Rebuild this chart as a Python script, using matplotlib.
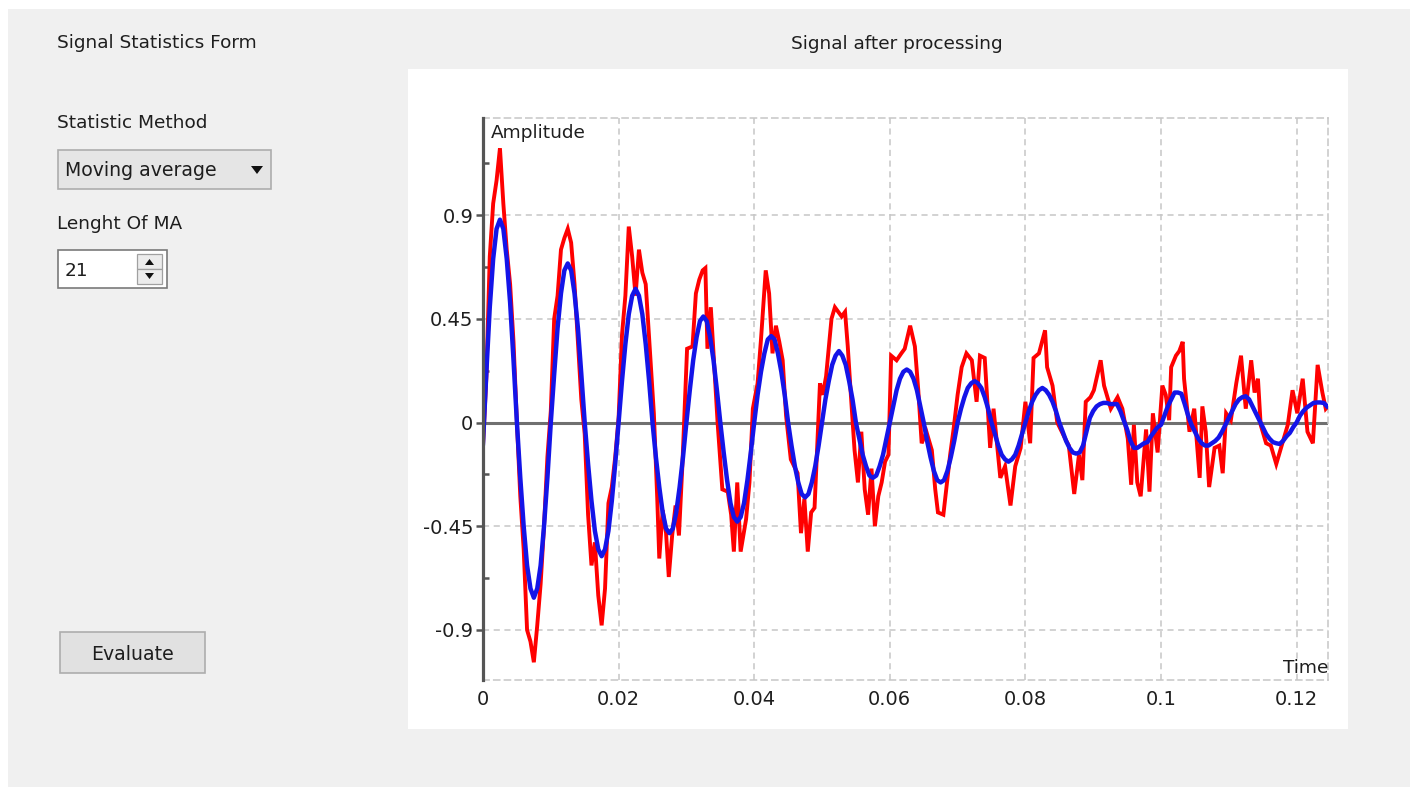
import numpy as np
import matplotlib
matplotlib.use('Agg')
import matplotlib.pyplot as plt
from matplotlib.patches import Rectangle, Polygon

# ---------------- data ----------------
# raw signal (red): time in ms, amplitude
red_t_ms = [0, 0.5, 1.0, 1.5, 2.0, 2.5, 3.0, 3.5, 4.0, 4.5, 5.0, 5.5, 6.0, 6.5, 7.0, 7.5, 8.0, 8.5, 9.0, 9.5,
            10.0, 10.5, 11.0, 11.5, 12.0, 12.5, 13.0, 13.5, 14.0, 14.5, 15.0, 15.5, 16.0, 16.5, 17.0, 17.5,
            18.0, 18.5, 19.0, 19.5, 20.0, 20.5, 21.0, 21.5, 22.0, 22.5, 23.0, 23.5,
            24.0, 24.7, 25.2, 25.7, 26.0, 26.5, 27.0, 27.4, 27.9, 28.4, 28.9, 29.4, 30.1, 30.9, 31.4, 31.9,
            32.4, 32.8, 33.1, 33.6, 34.1, 34.6, 35.3, 36.1, 36.6, 37.0, 37.5, 38.0, 38.8, 39.3, 39.8, 40.5,
            41.0, 41.7, 42.2, 42.7, 43.2, 43.7, 44.2, 44.7, 45.4, 46.4, 46.9, 47.4, 47.9, 48.4, 48.9,
            49.7, 50.1, 50.6, 51.4, 51.9, 52.4, 52.9, 53.4, 53.8, 54.3, 54.8, 55.3, 55.8, 56.3, 56.8, 57.3,
            57.8, 58.3, 58.8, 59.3, 59.8, 60.2, 61.0, 61.7, 62.2, 63.0, 63.7, 64.2, 64.7, 65.4, 66.2, 66.7,
            67.1, 67.9, 68.4, 68.9, 69.4, 70.0, 70.6, 71.3, 72.1, 72.8, 73.3, 74.0,
            74.8, 75.3, 76.3, 77.0, 77.8, 78.5, 79.3, 80.0, 80.7, 81.2, 82.0, 82.9, 83.2, 84.0, 84.7, 85.7,
            86.4, 87.2, 87.9, 88.4, 88.9, 89.6, 90.1, 91.1, 91.6, 92.6, 93.6, 94.3, 95.1, 95.6, 96.0, 96.5,
            97.0, 97.8, 98.3,
            98.8, 99.5, 100.2, 100.7, 101.2, 101.5, 102.2, 102.7, 103.2, 103.4, 104.2, 104.9, 105.7, 106.1,
            106.6, 107.1, 107.9, 108.6, 109.1, 109.6, 110.3, 111.1, 111.8, 112.5, 113.3, 113.8, 114.3, 114.7,
            115.5, 116.2, 117.0, 117.7, 118.7, 119.4, 120.1, 120.9, 121.6, 122.4, 123.1, 123.8, 124.3, 124.6]
red_v = [-0.1, 0.2, 0.72, 0.95, 1.05, 1.19, 0.95, 0.75, 0.6, 0.35, 0.0, -0.32, -0.55, -0.9, -0.95, -1.04, -0.88, -0.7, -0.45, -0.15,
         0.05, 0.45, 0.55, 0.75, 0.8, 0.84, 0.78, 0.6, 0.35, 0.1, -0.05, -0.4, -0.62, -0.52, -0.75, -0.88,
         -0.72, -0.35, -0.28, -0.15, 0.02, 0.38, 0.55, 0.85, 0.72, 0.55, 0.75, 0.65,
         0.6, 0.27, 0.04, -0.33, -0.59, -0.38, -0.48, -0.67, -0.49, -0.36, -0.49, -0.19, 0.32, 0.33, 0.56, 0.62,
         0.66, 0.67, 0.32, 0.5, 0.25, 0.0, -0.29, -0.3, -0.4, -0.56, -0.26, -0.56, -0.42, -0.26, 0.06, 0.17,
         0.36, 0.66, 0.56, 0.3, 0.42, 0.35, 0.27, 0.03, -0.16, -0.22, -0.48, -0.33, -0.56, -0.39, -0.37,
         0.17, 0.12, 0.2, 0.45, 0.5, 0.48, 0.46, 0.48, 0.33, 0.1, -0.12, -0.26, -0.04, -0.29, -0.4, -0.2,
         -0.45, -0.32, -0.26, -0.17, -0.14, 0.29, 0.27, 0.3, 0.32, 0.42, 0.33, 0.14, -0.09, -0.04, -0.12, -0.29,
         -0.39, -0.4, -0.27, -0.14, -0.03, 0.12, 0.24, 0.3, 0.27, 0.09, 0.29, 0.28,
         -0.11, 0.06, -0.24, -0.19, -0.36, -0.19, -0.11, 0.09, -0.09, 0.28, 0.3, 0.4, 0.24, 0.16, 0.0, -0.06,
         -0.1, -0.31, -0.14, -0.25, 0.09, 0.11, 0.14, 0.27, 0.16, 0.06, 0.11, 0.06, -0.07, -0.27, -0.01, -0.26,
         -0.32, -0.03, -0.3,
         0.04, -0.13, 0.16, 0.12, 0.01, 0.24, 0.29, 0.31, 0.35, 0.19, -0.04, 0.06, -0.24, 0.07,
         -0.04, -0.28, -0.11, -0.1, -0.22, 0.04, 0.01, 0.17, 0.29, 0.06, 0.27, 0.13, 0.19, -0.01,
         -0.09, -0.1, -0.18, -0.11, -0.01, 0.14, 0.04, 0.19, -0.04, -0.09, 0.25, 0.13, 0.06, 0.07]

# moving average (blue), sampled every 0.5 ms starting at 0
blue_dt_ms = 0.5
blue_v = [-0.09, 0.22, 0.50, 0.71, 0.84, 0.88, 0.84, 0.71, 0.52, 0.27, 0.0, -0.24, -0.45, -0.62, -0.72, -0.76, -0.72, -0.62, -0.45, -0.24,
          0.0, 0.21, 0.41, 0.56, 0.66, 0.69, 0.66, 0.56, 0.41, 0.21, 0.0, -0.18, -0.34, -0.47, -0.55, -0.58, -0.55, -0.47, -0.34, -0.18,
          0.0, 0.18, 0.34, 0.47, 0.55, 0.58, 0.55, 0.47, 0.34, 0.18, 0.0, -0.15, -0.28, -0.39, -0.46, -0.48, -0.46, -0.39, -0.28, -0.15,
          0.0, 0.14, 0.27, 0.37, 0.44, 0.46, 0.44, 0.37, 0.27, 0.14, 0.0, -0.13, -0.25, -0.35, -0.41, -0.43, -0.41, -0.35, -0.25, -0.13,
          0.0, 0.12, 0.22, 0.30, 0.36, 0.375, 0.36, 0.30, 0.22, 0.12, 0.0, -0.10, -0.19, -0.26, -0.31, -0.325, -0.31, -0.26, -0.19, -0.10,
          0.0, 0.10, 0.18, 0.25, 0.29, 0.31, 0.29, 0.25, 0.18, 0.10, 0.0, -0.07, -0.14, -0.19, -0.23, -0.24, -0.23, -0.19, -0.14, -0.07,
          0.0, 0.07, 0.14, 0.19, 0.22, 0.23, 0.22, 0.19, 0.14, 0.07, 0.0, -0.08, -0.15, -0.21, -0.25, -0.26, -0.25, -0.21, -0.15, -0.08,
          0.0, 0.06, 0.11, 0.15, 0.17, 0.18, 0.17, 0.15, 0.11, 0.06, 0.0, -0.05, -0.10, -0.14, -0.16, -0.17, -0.16, -0.14, -0.10, -0.05,
          0.0, 0.05, 0.09, 0.12, 0.14, 0.15, 0.14, 0.12, 0.09, 0.05, 0.0, -0.04, -0.08, -0.11, -0.13, -0.135, -0.13, -0.10, -0.04, 0.02,
          0.05, 0.07, 0.08, 0.085, 0.085, 0.08, 0.08, 0.08, 0.05, 0.01, -0.03, -0.08, -0.11, -0.11, -0.10, -0.09, -0.085, -0.06, -0.04, -0.02,
          -0.01, 0.03, 0.07, 0.10, 0.13, 0.13, 0.125, 0.08, 0.03, -0.01, -0.04, -0.07, -0.09, -0.10, -0.10, -0.09, -0.08, -0.065, -0.04, -0.01,
          0.02, 0.05, 0.08, 0.10, 0.11, 0.114, 0.10, 0.07, 0.04, 0.01, -0.02, -0.05, -0.07, -0.085, -0.09, -0.093, -0.08, -0.06, -0.045, -0.02,
          0.0, 0.03, 0.05, 0.065, 0.075, 0.085, 0.087, 0.087, 0.085, 0.07]

x_ticks = [0, 0.02, 0.04, 0.06, 0.08, 0.1, 0.12]
x_tick_labels = ['0', '0.02', '0.04', '0.06', '0.08', '0.1', '0.12']
y_ticks = [-0.9, -0.45, 0, 0.45, 0.9]
y_tick_labels = ['-0.9', '-0.45', '0', '0.45', '0.9']
y_minor = [-0.675, -0.225, 0.225, 0.675, 1.125]

# ---------------- figure ----------------
W, H = 1416, 787
plt.rcParams['font.family'] = ['DejaVu Sans']
fig = plt.figure(figsize=(W / 100, H / 100), dpi=100)
fig.patch.set_facecolor('white')

TXT = '#1e1e1e'
FS = 13.3

# window background / widgets (pixel coordinates)
bg = fig.add_axes([0, 0, 1, 1])
bg.set_xlim(0, W)
bg.set_ylim(H, 0)
bg.axis('off')
bg.add_patch(Rectangle((8, 9), 1402, 780, facecolor='#f0f0f0', edgecolor='none'))
bg.add_patch(Rectangle((408, 69), 940, 660, facecolor='white', edgecolor='none'))

bg.text(57, 43, 'Signal Statistics Form', fontsize=FS, color=TXT, va='center', ha='left')
bg.text(897, 44, 'Signal after processing', fontsize=FS, color=TXT, va='center', ha='center')
bg.text(57, 123, 'Statistic Method', fontsize=FS, color=TXT, va='center', ha='left')

# combobox
bg.add_patch(Rectangle((58, 150), 213, 39, facecolor='#e5e5e5', edgecolor='#adadad', lw=1.2))
bg.text(65, 171, 'Moving average', fontsize=FS + 0.3, color=TXT, va='center', ha='left')
bg.add_patch(Polygon([[251, 166], [263, 166], [257, 174]], closed=True, facecolor='#111111', edgecolor='none'))

bg.text(57, 224, 'Lenght Of MA', fontsize=FS, color=TXT, va='center', ha='left')

# spinbox
bg.add_patch(Rectangle((58, 250), 109, 38, facecolor='white', edgecolor='#7a7a7a', lw=1.2))
bg.text(65, 271, '21', fontsize=FS, color=TXT, va='center', ha='left')
bg.add_patch(Rectangle((137, 254), 25, 15, facecolor='#ececec', edgecolor='#a0a0a0', lw=0.9))
bg.add_patch(Rectangle((137, 269), 25, 15, facecolor='#ececec', edgecolor='#a0a0a0', lw=0.9))
bg.add_patch(Polygon([[145, 265], [154, 265], [149.5, 259]], closed=True, facecolor='#111111', edgecolor='none'))
bg.add_patch(Polygon([[145, 273], [154, 273], [149.5, 279]], closed=True, facecolor='#111111', edgecolor='none'))

# evaluate button
bg.add_patch(Rectangle((60, 632), 145, 41, facecolor='#e1e1e1', edgecolor='#adadad', lw=1.2))
bg.text(132.5, 654, 'Evaluate', fontsize=FS + 0.3, color=TXT, va='center', ha='center')

# ---------------- plot ----------------
ax = fig.add_axes([483 / W, (H - 680) / H, (1328 - 483) / W, (680 - 118) / H])
ax.patch.set_alpha(0)
ax.set_xlim(0, 0.12463)
ax.set_ylim(-1.117, 1.321)

dash = (0, (4, 3))
gcol = '#c6c6c6'
for xv in x_ticks[1:]:
    ax.axvline(xv, color=gcol, lw=1.1, ls=dash, zorder=1)
for yv in [-0.9, -0.45, 0.45, 0.9]:
    ax.axhline(yv, color=gcol, lw=1.1, ls=dash, zorder=1)

for s in ['top', 'right', 'bottom']:
    ax.spines[s].set_color(gcol)
    ax.spines[s].set_linewidth(1.1)
    ax.spines[s].set_linestyle(dash)
ax.spines['left'].set_color('#555555')
ax.spines['left'].set_linewidth(2.3)
ax.spines['left'].set_zorder(5)

ax.axhline(0, color='#707070', lw=2.2, zorder=2)

red_t = np.array(red_t_ms) / 1000.0
blue_t = np.arange(len(blue_v)) * blue_dt_ms / 1000.0
ax.plot(red_t, red_v, color='#ff0000', lw=2.8, zorder=3, solid_joinstyle='miter')
ax.plot(blue_t, blue_v, color='#1414e8', lw=3.2, zorder=4)

ax.set_xticks(x_ticks)
ax.set_xticklabels(x_tick_labels)
ax.set_yticks(y_ticks)
ax.set_yticklabels(y_tick_labels)
ax.set_yticks(y_minor, minor=True)
ax.tick_params(axis='x', length=0, pad=7, labelsize=14, labelcolor=TXT)
ax.tick_params(axis='y', which='major', direction='out', length=5, width=1.8, color='#555555',
               pad=2, labelsize=14, labelcolor=TXT)
ax.tick_params(axis='y', which='minor', direction='in', length=4, width=1.8, color='#555555')

ax.text(491, 133, 'Amplitude', transform=bg.transData, fontsize=FS, color=TXT, va='center', ha='left', zorder=6)
ax.text(1328, 668, 'Time', transform=bg.transData, fontsize=FS, color=TXT, va='center', ha='right', zorder=6)

fig.savefig('out.png', dpi=100, facecolor=fig.get_facecolor())
